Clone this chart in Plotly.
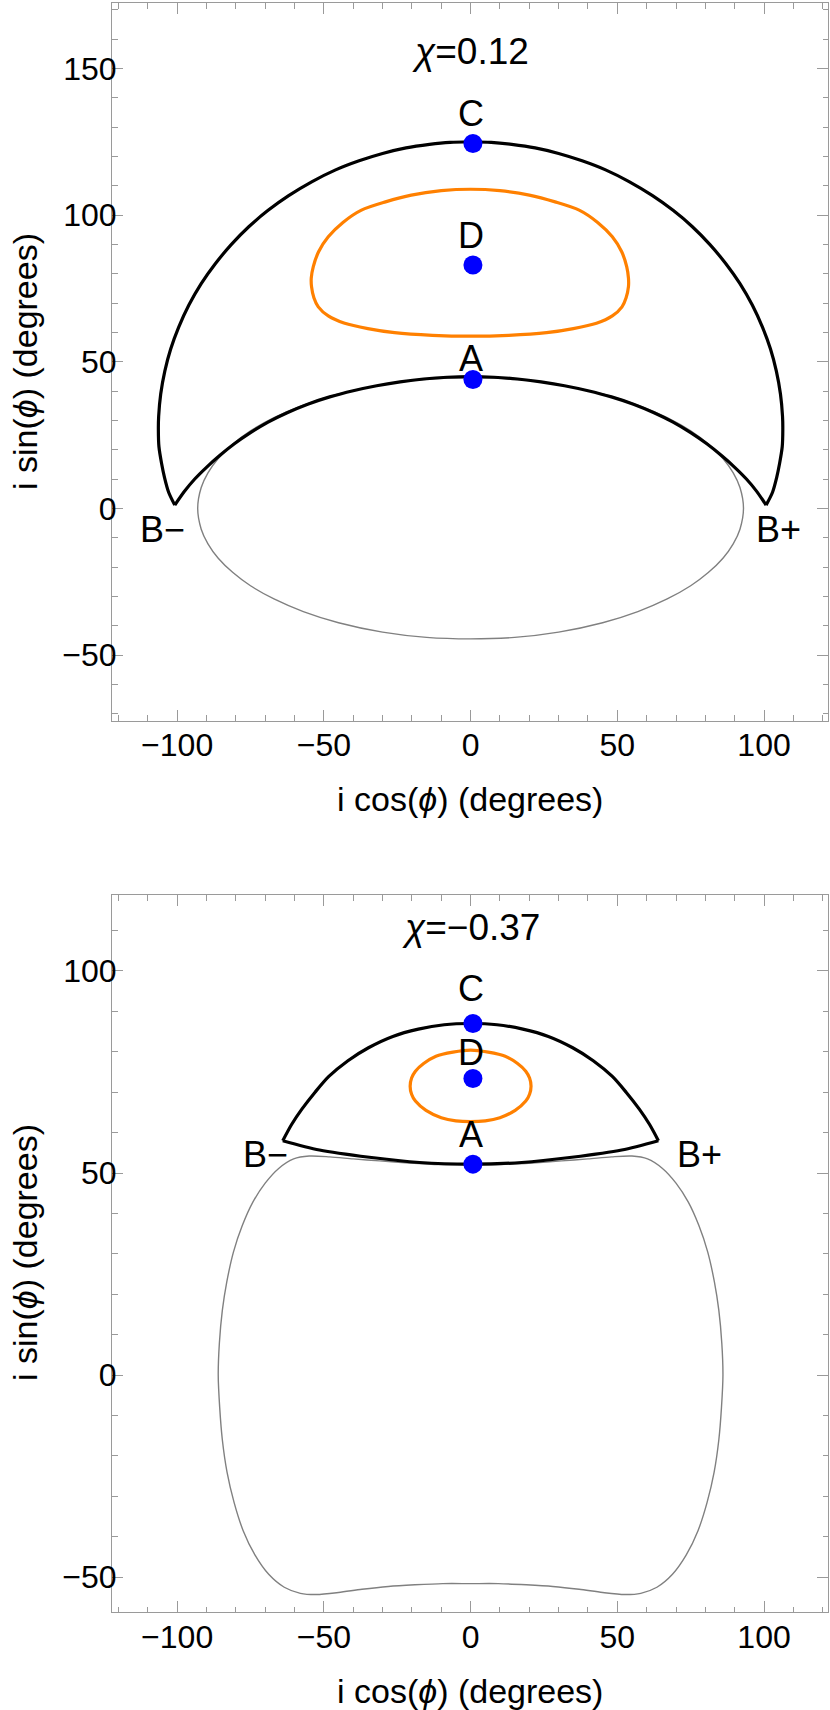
import plotly.graph_objects as go

# ---------------- data: top panel (chi = 0.12) ----------------
top_outer_left_x = [-100.8, -102.9, -104.3, -105.3, -106.2, -106.4, -106.3, -105.6, -104.2, -102.2, -99.5, -96.0,
                    -91.8, -87.0, -81.5, -75.5, -69.0, -62.0, -54.0, -46.0, -38.0, -30.0, -22.0, -14.0, -7.0, 0.0]
top_outer_left_y = [1.1, 5.5, 10.5, 15.3, 21.0, 27.0, 31.4, 39.0, 46.8, 54.3, 61.7, 69.3,
                    76.6, 83.4, 90.0, 96.1, 101.6, 106.6, 111.4, 115.4, 118.5, 121.0, 122.9, 124.1, 124.8, 125.0]
top_outer_right_x = [0.0, 7.0, 14.0, 22.0, 30.0, 38.0, 46.0, 54.0, 62.0, 69.0, 75.5, 81.5, 87.0, 91.8,
                     96.0, 99.5, 102.2, 104.2, 105.6, 106.3, 106.4, 106.2, 105.3, 104.3, 102.9, 100.7]
top_outer_right_y = [125.0, 124.8, 124.1, 122.9, 121.0, 118.5, 115.4, 111.4, 106.6, 101.6, 96.1, 90.0, 83.4, 76.6,
                     69.3, 61.7, 54.3, 46.8, 39.0, 31.4, 27.0, 21.0, 15.3, 10.5, 5.5, 1.1]

top_inner_x = [-100.8, -97.5, -94.0, -90.0, -85.5, -80.5, -75.0, -69.0, -62.5, -55.5, -48.0, -40.0, -32.0, -24.0,
               -16.0, -8.0, 0.0, 8.0, 16.0, 24.0, 32.0, 40.0, 48.0, 55.5, 62.5, 69.0, 75.0, 80.5, 85.5, 90.0,
               94.0, 97.5, 100.7]
top_inner_y = [1.1, 5.8, 10.0, 14.0, 18.0, 22.0, 25.8, 29.4, 32.6, 35.5, 38.0, 40.1, 41.8, 43.1,
               44.1, 44.7, 44.9, 44.7, 44.1, 43.1, 41.8, 40.1, 38.0, 35.5, 32.6, 29.4, 25.8, 22.0, 18.0, 14.0,
               10.0, 5.8, 1.1]

top_orange_x = [0.0, -10.0, -20.2, -29.0, -37.2, -43.5, -48.5, -51.8, -53.6, -54.3, -54.2, -53.4, -51.9, -48.5,
                -42.9, -35.0, -25.9, -13.0, 0.0,
                13.0, 25.9, 35.0, 42.9, 48.3, 51.6, 53.0, 53.8, 53.8, 53.2, 51.5, 48.3, 43.3, 37.0, 28.8, 20.0, 10.0, 0.0]
top_orange_y = [108.8, 108.3, 106.8, 104.5, 101.7, 97.5, 92.6, 87.5, 82.4, 78.5, 75.6, 71.8, 68.7, 65.6,
                63.1, 61.3, 59.9, 59.0, 58.7,
                59.0, 59.9, 61.3, 63.1, 65.6, 68.7, 71.8, 75.6, 78.5, 82.4, 87.5, 92.6, 97.5, 101.7, 104.5, 106.8, 108.3, 108.8]

top_grey_x = [0.0, -15.0, -30.0, -45.0, -57.0, -67.0, -75.0, -81.0, -86.0, -89.5, -91.8, -93.0,
              -91.8, -89.5, -86.0, -81.0, -75.0, -67.0, -57.0, -45.0, -30.0, -15.0, 0.0,
              15.0, 30.0, 45.0, 57.0, 67.0, 75.0, 81.0, 86.0, 89.5, 91.8, 93.0,
              91.8, 89.5, 86.0, 81.0, 75.0, 67.0, 57.0, 45.0, 30.0, 15.0, 0.0]
top_grey_y = [44.6, 44.0, 42.2, 39.0, 35.2, 30.9, 26.4, 21.9, 17.0, 12.1, 7.1, 0.0,
              -7.1, -12.1, -17.0, -21.9, -26.4, -30.9, -35.2, -39.0, -42.2, -44.0, -44.5,
              -44.0, -42.2, -39.0, -35.2, -30.9, -26.4, -21.9, -17.0, -12.1, -7.1, 0.0,
              7.1, 12.1, 17.0, 21.9, 26.4, 30.9, 35.2, 39.0, 42.2, 44.0, 44.6]

top_pts_x = [0.8, 0.8, 0.8]
top_pts_y = [124.4, 83.0, 43.9]
top_lbl_text = ["C", "D", "A", "B−", "B+"]
top_lbl_x = [0.0, 0.0, 0.0, -105.0, 105.0]
top_lbl_y = [134.6, 93.2, 51.2, -7.2, -7.2]
top_chi = "<i>χ</i>=0.12"
top_chi_y = 155.6

# ---------------- data: bottom panel (chi = -0.37) ----------------
bot_top_arc_x = [-64.0, -61.0, -57.5, -53.0, -48.3, -41.8, -34.8, -26.5, -17.8, -9.0, 0.0,
                 9.0, 17.8, 26.5, 34.8, 41.8, 48.3, 53.0, 57.5, 61.0, 64.0]
bot_top_arc_y = [58.0, 62.0, 65.8, 70.0, 73.9, 77.8, 81.0, 83.8, 85.6, 86.7, 87.0,
                 86.7, 85.6, 83.8, 81.0, 77.8, 73.9, 70.0, 65.8, 62.0, 58.0]
bot_low_arc_x = [-64.0, -51.5, -34.5, -17.4, 0.0, 17.4, 34.5, 51.5, 64.0]
bot_low_arc_y = [58.0, 55.7, 53.9, 52.6, 52.2, 52.6, 53.9, 55.7, 58.0]

bot_orange_x = [0.0, -6.0, -11.8, -16.0, -18.8, -20.1, -20.6, -20.1, -18.8, -15.2, -10.0, -5.0, 0.0,
                5.0, 10.0, 15.2, 18.8, 20.1, 20.6, 20.1, 18.8, 16.0, 11.8, 6.0, 0.0]
bot_orange_y = [80.4, 79.9, 78.9, 77.1, 75.2, 73.5, 71.5, 69.5, 67.8, 65.5, 63.7, 62.9, 62.7,
                62.9, 63.7, 65.5, 67.8, 69.5, 71.5, 73.5, 75.2, 77.1, 78.9, 79.9, 80.4]

# grey closed curve, from top centre going left (counter-clockwise)
bot_grey_x = [0.0, -10.5, -21.0, -31.0, -40.0, -48.0, -55.0, -60.3, -65.3, -70.0, -74.2, -77.8, -80.8, -83.1,
              -84.6, -85.6, -86.0, -85.5, -84.6, -83.0, -80.6, -77.5, -73.5, -68.8, -63.5, -58.0, -52.5,
              -45.0, -37.0, -28.0, -19.0, -9.5, 0.0,
              9.5, 19.0, 28.0, 37.0, 45.0, 52.5, 58.0, 63.5, 68.8, 73.5, 77.5, 80.6, 83.0, 84.6, 85.5, 86.0,
              85.6, 84.6, 83.1, 80.8, 77.8, 74.2, 70.0, 65.3, 60.3, 55.0, 48.0, 40.0, 31.0, 21.0, 10.5, 0.0]
bot_grey_y = [52.0, 52.1, 52.5, 53.0, 53.5, 54.0, 54.2, 53.5, 51.2, 47.5, 42.8, 37.0, 30.5, 23.0,
              16.0, 8.0, 0.0, -8.0, -16.0, -24.0, -31.5, -38.5, -44.5, -49.3, -52.5, -54.0, -54.3,
              -53.8, -53.0, -52.3, -51.9, -51.6, -51.6,
              -51.6, -51.9, -52.3, -53.0, -53.8, -54.3, -54.0, -52.5, -49.3, -44.5, -38.5, -31.5, -24.0, -16.0, -8.0, 0.0,
              8.0, 16.0, 23.0, 30.5, 37.0, 42.8, 47.5, 51.2, 53.5, 54.2, 54.0, 53.5, 53.0, 52.5, 52.1, 52.0]

bot_pts_x = [0.8, 0.8, 0.8]
bot_pts_y = [87.0, 73.4, 52.2]
bot_lbl_text = ["C", "D", "A", "B−", "B+"]
bot_lbl_x = [0.0, 0.0, 0.0, -69.9, 78.0]
bot_lbl_y = [95.7, 79.8, 59.6, 54.7, 54.7]
bot_chi = "<i>χ</i>=−0.37"
bot_chi_y = 110.8

x_title = "i cos(<i>ϕ</i>) (degrees)"
y_title = "i sin(<i>ϕ</i>) (degrees)"

# ---------------- styles ----------------
FONT = "Liberation Sans, Arial, sans-serif"
FS_TICK = 32
FS_LBL = 36
FS_CHI = 37
FS_TITLE = 34
BLACK_W = 3.2
ORANGE = "#FF8000"
GREY = "#808080"
BLUE = "#0000FF"
AXC = "#9a9a9a"

fig = go.Figure()

def add_panel(xa, ya, curves_black, orange, grey, px_, py_):
    gx, gy = grey
    fig.add_trace(go.Scatter(x=gx, y=gy, mode="lines", line=dict(color=GREY, width=1.4, shape="spline", smoothing=0.8),
                             xaxis=xa, yaxis=ya, showlegend=False, hoverinfo="skip"))
    ox, oy = orange
    fig.add_trace(go.Scatter(x=ox, y=oy, mode="lines", line=dict(color=ORANGE, width=3.2, shape="spline", smoothing=0.8),
                             xaxis=xa, yaxis=ya, showlegend=False, hoverinfo="skip"))
    for cx, cy in curves_black:
        fig.add_trace(go.Scatter(x=cx, y=cy, mode="lines", line=dict(color="black", width=BLACK_W, shape="spline", smoothing=0.8),
                                 xaxis=xa, yaxis=ya, showlegend=False, hoverinfo="skip"))
    fig.add_trace(go.Scatter(x=px_, y=py_, mode="markers", marker=dict(color=BLUE, size=19, line=dict(width=0)),
                             xaxis=xa, yaxis=ya, showlegend=False, hoverinfo="skip"))

add_panel("x", "y",
          [(top_outer_left_x, top_outer_left_y), (top_outer_right_x, top_outer_right_y), (top_inner_x, top_inner_y)],
          (top_orange_x, top_orange_y), (top_grey_x, top_grey_y), top_pts_x, top_pts_y)
add_panel("x2", "y2",
          [(bot_top_arc_x, bot_top_arc_y), (bot_low_arc_x, bot_low_arc_y)],
          (bot_orange_x, bot_orange_y), (bot_grey_x, bot_grey_y), bot_pts_x, bot_pts_y)

W, H = 830, 1710
xdom = [112 / W, 828 / W]
ydom_top = [1 - 720.7 / H, 1 - 3 / H]
ydom_bot = [1 - 1612.3 / H, 1 - 895 / H]

def axis_style(standoff, **kw):
    d = dict(showline=True, linecolor=AXC, linewidth=1, mirror="allticks", ticks="inside",
             ticklen=11, tickwidth=1, tickcolor=AXC, showgrid=False, zeroline=False,
             tick0=0, dtick=50, tickfont=dict(family=FONT, size=FS_TICK, color="black"),
             ticklabelstandoff=standoff,
             minor=dict(ticks="inside", ticklen=5.5, tickwidth=1, tickcolor=AXC, dtick=10, tick0=0, showgrid=False),
             fixedrange=True)
    d.update(kw)
    return d

fig.update_layout(
    width=W, height=H, margin=dict(l=0, r=0, t=0, b=0),
    paper_bgcolor="white", plot_bgcolor="white",
    xaxis=axis_style(-4, domain=xdom, range=[-122.2, 121.8], anchor="y"),
    yaxis=axis_style(-12, domain=ydom_top, range=[-72.4, 172.3], anchor="x"),
    xaxis2=axis_style(-4, domain=xdom, range=[-122.2, 121.8], anchor="y2"),
    yaxis2=axis_style(-12, domain=ydom_bot, range=[-58.7, 118.8], anchor="x2"),
)

ann = []
def lab(t, x, y, xr, yr, fs):
    return dict(text=t, x=x, y=y, xref=xr, yref=yr, showarrow=False,
                font=dict(family=FONT, size=fs, color="black"), xanchor="center", yanchor="middle")

for t, x, y in zip(top_lbl_text, top_lbl_x, top_lbl_y):
    ann.append(lab(t, x, y, "x", "y", FS_LBL))
ann.append(lab(top_chi, 0, top_chi_y, "x", "y", FS_CHI))
for t, x, y in zip(bot_lbl_text, bot_lbl_x, bot_lbl_y):
    ann.append(lab(t, x, y, "x2", "y2", FS_LBL))
ann.append(lab(bot_chi, 0, bot_chi_y, "x2", "y2", FS_CHI))

# axis titles
for yc_px, xt_px in [(362, 799), (1253, 1691)]:
    ann.append(lab(x_title, 470 / W, 1 - xt_px / H, "paper", "paper", FS_TITLE))
    a = lab(y_title, 25 / W, 1 - yc_px / H, "paper", "paper", FS_TITLE)
    a["textangle"] = -90
    ann.append(a)
fig.update_layout(annotations=ann)

fig.write_html("out.html", config={"displayModeBar": False},
               post_script="document.body.style.margin='0';document.body.style.overflow='hidden';")
